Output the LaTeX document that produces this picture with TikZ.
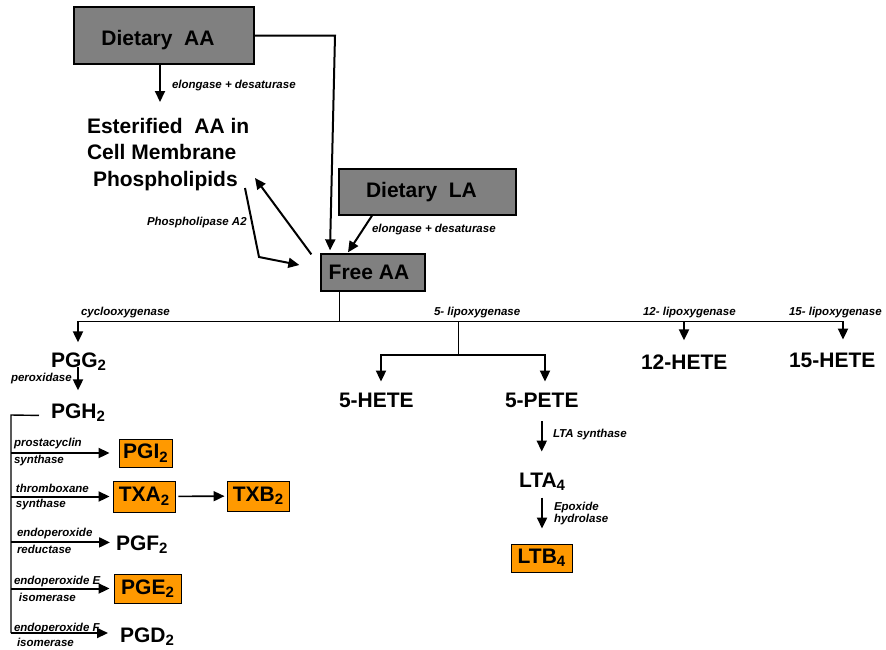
\documentclass[tikz,border=0pt]{standalone}
\usepackage{fontspec}
\setmainfont{Liberation Sans}
\usetikzlibrary{arrows.meta}
\definecolor{boxgray}{HTML}{808080}
\definecolor{prodorange}{HTML}{FF9900}
\newcommand{\lowsub}[1]{\raisebox{-3.5pt}{\fontsize{15}{15}\selectfont #1}}

\begin{document}
\begin{tikzpicture}[x=1pt,y=-1pt,line width=2pt,>={Triangle[length=11pt,width=10pt]},
  big/.style={font=\fontsize{21}{26.5}\selectfont\bfseries,inner sep=0pt},
  enz/.style={font=\fontsize{11.5}{14}\selectfont\bfseries\itshape,inner sep=0pt,anchor=base west},
  graybox/.style={draw,line width=1.3pt,fill=boxgray,inner sep=0pt,font=\fontsize{21}{24}\selectfont\bfseries},
  prodbox/.style={draw,line width=0.9pt,fill=prodorange,inner sep=0pt,font=\fontsize{21}{24}\selectfont\bfseries},
  branchline/.style={line width=1pt}]
\useasboundingbox (0,0) rectangle (886,649);

% sources and free AA
\node[graybox,minimum width=180pt,minimum height=57pt,text height=24pt] (dAA) at (164,35.5) {Dietary\ \ AA\hspace*{12pt}};
\node[big,anchor=north west,align=left] (ester) at (86,117) {Esterified\ \ AA in\\Cell Membrane\\\hspace*{6pt}Phospholipids};
\node[graybox,minimum width=177pt,minimum height=46pt] (dLA) at (427.5,192) {Dietary\ \ LA\hspace*{12pt}};
\node[graybox,minimum width=104pt,minimum height=37pt] (freeAA) at (373,272.5) {Free AA\hspace*{8pt}};

% products
\node[big,anchor=base west] (pgg) at (50,367) {PGG\lowsub{2}};
\node[big,anchor=base west] (pgh) at (50,418) {PGH\lowsub{2}};
\node[big,anchor=base west] (hete5) at (338,407) {5-HETE};
\node[big,anchor=base west] (pete5) at (504,407) {5-PETE};
\node[big,anchor=base west] (hete12) at (640,369) {12-HETE};
\node[big,anchor=base west] (hete15) at (788,367) {15-HETE};
\node[big,anchor=base west] (lta) at (518,487) {LTA\lowsub{4}};
\node[big,anchor=base west] (pgf) at (115,550) {PGF\lowsub{2}};
\node[big,anchor=base west] (pgd) at (119,642) {PGD\lowsub{2}};
\node[prodbox,minimum width=53pt,minimum height=28pt] (pgi) at (145.5,453) {PGI\lowsub{2}};
\node[prodbox,minimum width=62pt,minimum height=31pt] (txa) at (144,496.5) {TXA\lowsub{2}};
\node[prodbox,minimum width=62pt,minimum height=30pt] (txb) at (258,496) {TXB\lowsub{2}};
\node[prodbox,minimum width=67pt,minimum height=29pt] (pge) at (147.5,588.5) {PGE\lowsub{2}};
\node[prodbox,minimum width=61pt,minimum height=28pt] (ltb) at (541.5,558) {LTB\lowsub{4}};

% enzyme labels
\node[enz] (elongA) at (171,88) {elongase + desaturase};
\node[enz] (elongB) at (371,232) {elongase + desaturase};
\node[enz] (pla) at (146,225) {Phospholipase A2};
\node[enz] (cox) at (80,315) {cyclooxygenase};
\node[enz] (lox5) at (433,315) {5- lipoxygenase};
\node[enz] (lox12) at (642,315) {12- lipoxygenase};
\node[enz] (lox15) at (788,315) {15- lipoxygenase};
\node[enz] (perox) at (10,381) {peroxidase};
\node[enz] (pgiEnzA) at (13,446) {prostacyclin};
\node[enz] (pgiEnzB) at (13,463) {synthase};
\node[enz] (txaEnzA) at (15,492) {thromboxane};
\node[enz] (txaEnzB) at (15,507) {synthase};
\node[enz] (pgfEnzA) at (16,536) {endoperoxide};
\node[enz] (pgfEnzB) at (16,553) {reductase};
\node[enz] (pgeEnzA) at (13,584) {endoperoxide E};
\node[enz] (pgeEnzB) at (18,601) {isomerase};
\node[enz] (pgdEnzA) at (13,631) {endoperoxide F};
\node[enz] (pgdEnzB) at (16,646) {isomerase};
\node[enz] (ltaSyn) at (552,437) {LTA synthase};
\node[enz] (epoxA) at (553,510) {Epoxide};
\node[enz] (epoxB) at (553,522) {hydrolase};

% helper points
\coordinate (esterTop) at (160,102);
\coordinate (aaBend) at (335,35.5);
\coordinate (plTip) at (255,178);
\coordinate (plStart) at (245,188);
\coordinate (plKnee) at (259,257);
\coordinate (trunk) at (339,321);
\coordinate (coxJ) at (78,321);
\coordinate (lox5J) at (458,321);
\coordinate (lox12J) at (684,321);
\coordinate (lox15J) at (843,321);
\coordinate (lox5Bar) at (458,355);
\coordinate (heteBar) at (381,355);
\coordinate (peteBar) at (545,355);
\coordinate (pghStub) at (11,415);
\coordinate (spineEnd) at (11,633);

% feeding free AA
\draw[->] (dAA.south -| esterTop) -- (esterTop);
\draw[->] (dAA.east) -- (aaBend) -- ([xshift=-43pt,yshift=3pt]freeAA.north);
\draw[->] ([xshift=-55.5pt]dLA.south) -- ([xshift=-25pt,yshift=1pt]freeAA.north);
\draw[->] ([xshift=-9pt,yshift=-1pt]freeAA.north west) -- (plTip);
\draw[->] (plStart) -- (plKnee) -- ([xshift=-21pt,yshift=7.5pt]freeAA.west);

% branching to the enzymes
\draw[branchline] (freeAA.south -| trunk) -- (trunk);
\draw[branchline] (coxJ) -- (lox15J);
\draw[branchline] (lox5J) -- (lox5Bar);
\draw[->,shorten >=9pt] (coxJ) -- (coxJ |- pgg.north);
\draw[->,shorten >=13pt] (lox12J) -- (lox12J |- hete12.north);
\draw[->,shorten >=12pt] (lox15J) -- (lox15J |- hete15.north);
\draw[->,shorten >=10pt] (lox5Bar) -- (heteBar) -- (heteBar |- hete5.north);
\draw[->,shorten >=10pt] (lox5Bar) -- (peteBar) -- (peteBar |- pete5.north);

% leukotriene path
\draw[->,shorten <=13pt,shorten >=20pt] (pete5.south) -- (pete5.south |- lta.north);
\draw[->,shorten <=6pt,shorten >=15pt] (lta.south) -- (lta.south |- ltb.north);

% prostanoid path
\draw[->,shorten >=12pt] (pgg.base -| coxJ) -- (pgh.north -| coxJ);
\draw[line width=1.4pt] ([xshift=-11pt,yshift=-3pt]pgh.west) -- (pghStub) -- (spineEnd);
\draw[->] (pgi.west -| pghStub) -- ([xshift=-9pt]pgi.west);
\draw[->] (txa.west -| pghStub) -- ([xshift=-3pt]txa.west);
\draw[->] ([yshift=2pt]pgf.west -| pghStub) -- ([xshift=-5pt,yshift=2pt]pgf.west);
\draw[->] (pge.west -| pghStub) -- ([xshift=-4pt]pge.west);
\draw[->] (spineEnd) -- ([xshift=-11pt]spineEnd -| pgd.west);
\draw[->,line width=1.6pt,shorten <=3pt,shorten >=2pt] (txa) -- (txb);
\end{tikzpicture}
\end{document}
